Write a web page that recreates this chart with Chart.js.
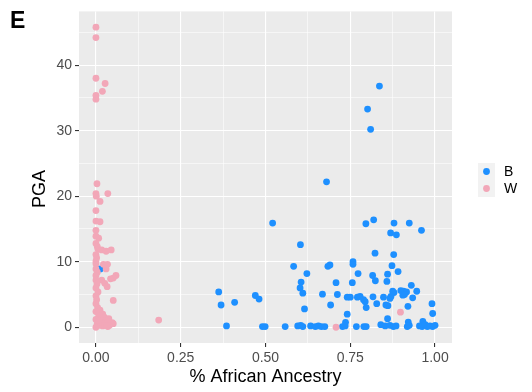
<!DOCTYPE html>
<html>
<head>
<meta charset="utf-8">
<script src="https://cdn.jsdelivr.net/npm/chart.js@4/dist/chart.umd.min.js"></script>
<style>
  html, body { margin: 0; padding: 0; background: #ffffff; }
  #wrap { position: relative; width: 532px; height: 392px; }
  canvas { display: block; }
</style>
</head>
<body>
<div id="wrap"><canvas id="c" width="532" height="392"></canvas></div>
<script>
// Group B: ancestry fraction and PGA
const bAncestry = [
  0.836, 0.801, 0.810, 0.680, 0.521, 0.796, 0.819, 0.879, 0.924, 0.869,
  0.886, 0.960, 0.603, 0.823, 0.878, 0.758, 0.758, 0.583, 0.684, 0.690,
  0.873, 0.891, 0.622, 0.773, 0.816, 0.860, 0.605, 0.708, 0.756, 0.824,
  0.858, 0.930, 0.602, 0.610, 0.362, 0.470, 0.481, 0.668, 0.712, 0.741,
  0.750, 0.771, 0.779, 0.789, 0.794, 0.817, 0.848, 0.875, 0.879, 0.870,
  0.867, 0.899, 0.907, 0.916, 0.905, 0.910, 0.946, 0.934, 0.369, 0.409,
  0.615, 0.692, 0.797, 0.828, 0.855, 0.861, 0.920, 0.991, 0.993, 0.741,
  0.860, 0.736, 0.921, 0.964, 0.013, 0.385,
  0.491, 0.499, 0.558, 0.595, 0.604, 0.610, 0.633, 0.647, 0.656, 0.665,
  0.675, 0.727, 0.735, 0.768, 0.790, 0.797, 0.840, 0.853, 0.867, 0.877,
  0.885, 0.918, 0.924, 0.954, 0.962, 0.971, 0.977, 0.985, 0.993, 1.000
];
const bPGA = [
  36.8, 33.3, 30.2, 22.2, 15.9, 15.8, 16.4, 15.9, 15.9, 14.4,
  14.1, 14.8, 12.6, 11.3, 11.1, 10.0, 9.6, 9.3, 9.3, 9.5,
  9.4, 8.5, 8.2, 8.2, 7.9, 8.1, 6.9, 6.8, 6.8, 7.1,
  7.0, 6.4, 6.0, 5.2, 5.4, 4.85, 4.3, 5.05, 5.0, 4.6,
  4.6, 4.6, 4.7, 4.2, 3.9, 4.65, 4.6, 5.5, 5.3, 4.7,
  4.4, 5.6, 5.5, 5.4, 4.9, 5.0, 5.5, 4.5, 3.4, 3.8,
  2.8, 3.4, 3.0, 3.6, 3.4, 3.3, 3.2, 3.6, 2.1, 2.0,
  1.3, 0.76, 0.8, 0.9, 8.9, 0.2,
  0.1, 0.1, 0.1, 0.2, 0.3, 0.1, 0.2, 0.1, 0.2, 0.1,
  0.1, 0.1, 0.2, 0.1, 0.1, 0.1, 0.4, 0.2, 0.3, 0.1,
  0.2, 0.1, 0.3, 0.2, 0.1, 0.4, 0.1, 0.2, 0.1, 0.3
];

// Group W: ancestry fraction and PGA
const wAncestry = [
  0.000, 0.000, 0.000, 0.027, 0.019, 0.000, 0.000,
  0.003, 0.000, 0.001, 0.035, 0.012, 0.000, 0.000, 0.012, 0.000, 0.000, 0.008,
  0.000, 0.004, 0.006, 0.017, 0.030, 0.045, 0.000, 0.002, 0.000, 0.000, 0.022,
  0.034, 0.030, 0.000, 0.004, 0.000, 0.017, 0.026, 0.033, 0.059, 0.051, 0.043,
  0.000, 0.003, 0.000, 0.006, 0.000, 0.051, 0.002, 0.000, 0.005, 0.012, 0.000,
  0.020, 0.008, 0.025, 0.000, 0.030, 0.015, 0.004, 0.048, 0.040, 0.035, 0.020,
  0.010, 0.000, 0.025, 0.038, 0.051, 0.033, 0.009,
  0.185, 0.708, 0.898
];
const wPGA = [
  45.8, 44.2, 38.0, 37.2, 36.0, 35.4, 34.8,
  21.9, 20.4, 20.0, 20.4, 19.2, 17.8, 16.2, 16.1, 14.8, 13.9, 13.6,
  12.8, 12.3, 11.9, 11.8, 11.6, 11.8, 11.1, 10.6, 10.1, 9.7, 9.6,
  9.6, 8.9, 8.9, 8.4, 7.9, 7.2, 6.7, 6.2, 7.9, 7.5, 7.4,
  7.2, 6.6, 6.0, 5.4, 4.8, 4.1, 4.2, 3.6, 3.0, 2.6, 2.4,
  2.0, 1.8, 1.5, 1.2, 1.0, 0.8, 0.6, 0.7, 0.3, 0.1, 0.2,
  0.3, 0.0, 0.3, 1.3, 0.55, 0.3, 1.06,
  1.1, 0.0, 2.3
];

const groupLabels = ['B', 'W'];
const groupColors = ['#1E90FF', '#F2A7B8'];

const xTickValues = [0, 0.25, 0.5, 0.75, 1];
const xTickLabels = ['0.00', '0.25', '0.50', '0.75', '1.00'];
const yTickValues = [0, 10, 20, 30, 40];
const yTickLabels = ['0', '10', '20', '30', '40'];

const xTitle = '% African Ancestry';
const yTitle = 'PGA';
const panelTag = 'E';

const fontFamily = '"Liberation Sans", Arial, sans-serif';

function toPoints(xs, ys) {
  return xs.map((x, i) => ({ x: x, y: ys[i] }));
}

// major ticks plus the midpoints between them (minor grid)
function withMinor(major, lo, hi) {
  const step = major[1] - major[0];
  const all = [];
  for (let v = major[0] - step / 2; v <= hi; v += step / 2) {
    if (v >= lo) all.push(+v.toFixed(6));
  }
  return all;
}
function isMajor(list, v) {
  return list.some(m => Math.abs(m - v) < 1e-6);
}

const panelBg = {
  id: 'panelBg',
  beforeDraw(chart) {
    const { ctx, chartArea: a } = chart;
    ctx.save();
    ctx.fillStyle = '#EBEBEB';
    ctx.fillRect(a.left, a.top, a.right - a.left, a.bottom - a.top);
    ctx.restore();
  }
};

// legend keys, rotated y title and the panel tag
const sideDecor = {
  id: 'sideDecor',
  afterDraw(chart) {
    const ctx = chart.ctx;
    const keyX = 478, keyY = 163, key = 17;
    ctx.save();
    ctx.fillStyle = '#F2F2F2';
    ctx.fillRect(keyX, keyY, key, key * groupLabels.length);
    groupLabels.forEach((lab, i) => {
      const cy = keyY + key * i + key / 2;
      ctx.beginPath();
      ctx.arc(keyX + key / 2, cy, 3.4, 0, Math.PI * 2);
      ctx.fillStyle = groupColors[i];
      ctx.fill();
      ctx.fillStyle = '#000000';
      ctx.font = '14px ' + fontFamily;
      ctx.textBaseline = 'middle';
      ctx.textAlign = 'left';
      ctx.fillText(lab, 504, cy + 0.5);
    });

    ctx.save();
    ctx.translate(40, 189);
    ctx.rotate(-Math.PI / 2);
    ctx.font = '18px ' + fontFamily;
    ctx.fillStyle = '#000000';
    ctx.textAlign = 'center';
    ctx.textBaseline = 'middle';
    ctx.fillText(yTitle, 0, 0);
    ctx.restore();

    ctx.font = 'bold 23px ' + fontFamily;
    ctx.textBaseline = 'alphabetic';
    ctx.textAlign = 'left';
    ctx.fillStyle = '#000000';
    ctx.fillText(panelTag, 10, 28);
    ctx.restore();
  }
};

const tickFont = { family: fontFamily, size: 14 };
const titleFont = { family: fontFamily, size: 18 };

new Chart(document.getElementById('c'), {
  type: 'scatter',
  data: {
    datasets: [
      { label: groupLabels[1], data: toPoints(wAncestry, wPGA),
        backgroundColor: groupColors[1], borderWidth: 0, pointRadius: 3.4, pointHoverRadius: 3.4 },
      { label: groupLabels[0], data: toPoints(bAncestry, bPGA),
        backgroundColor: groupColors[0], borderWidth: 0, pointRadius: 3.4, pointHoverRadius: 3.4 }
    ]
  },
  options: {
    responsive: false,
    animation: false,
    events: [],
    layout: { padding: { left: 0, right: 80, top: 9, bottom: 0 } },
    plugins: { legend: { display: false }, tooltip: { enabled: false } },
    scales: {
      x: {
        type: 'linear',
        min: -0.05, max: 1.05,
        afterBuildTicks(s) { s.ticks = withMinor(xTickValues, -0.05, 1.05).map(v => ({ value: v })); },
        afterFit(s) { s.height = 49; },
        ticks: {
          autoSkip: false, maxRotation: 0, padding: 3, color: '#4D4D4D', font: tickFont,
          callback(v) { const i = xTickValues.findIndex(m => Math.abs(m - v) < 1e-6); return i >= 0 ? xTickLabels[i] : ''; }
        },
        grid: {
          color: '#FFFFFF',
          lineWidth: c => (c.tick && isMajor(xTickValues, c.tick.value)) ? 1.1 : 0.55,
          tickColor: c => (c.tick && isMajor(xTickValues, c.tick.value)) ? '#333333' : 'rgba(0,0,0,0)',
          tickLength: 4, tickWidth: 1.1, drawTicks: true
        },
        border: { display: false },
        title: { display: true, text: xTitle, color: '#000000', font: titleFont, padding: { top: 0, bottom: 4 } }
      },
      y: {
        type: 'linear',
        min: -2.4, max: 48.2,
        afterBuildTicks(s) { s.ticks = withMinor(yTickValues, -2.4, 48.2).map(v => ({ value: v })); },
        afterFit(s) { s.width = 79; },
        ticks: {
          autoSkip: false, padding: 3, color: '#4D4D4D', font: tickFont,
          callback(v) { const i = yTickValues.findIndex(m => Math.abs(m - v) < 1e-6); return i >= 0 ? yTickLabels[i] : ''; }
        },
        grid: {
          color: '#FFFFFF',
          lineWidth: c => (c.tick && isMajor(yTickValues, c.tick.value)) ? 1.1 : 0.55,
          tickColor: c => (c.tick && isMajor(yTickValues, c.tick.value)) ? '#333333' : 'rgba(0,0,0,0)',
          tickLength: 4, tickWidth: 1.1, drawTicks: true
        },
        border: { display: false },
        title: { display: false }
      }
    }
  },
  plugins: [panelBg, sideDecor]
});
</script>
</body>
</html>
